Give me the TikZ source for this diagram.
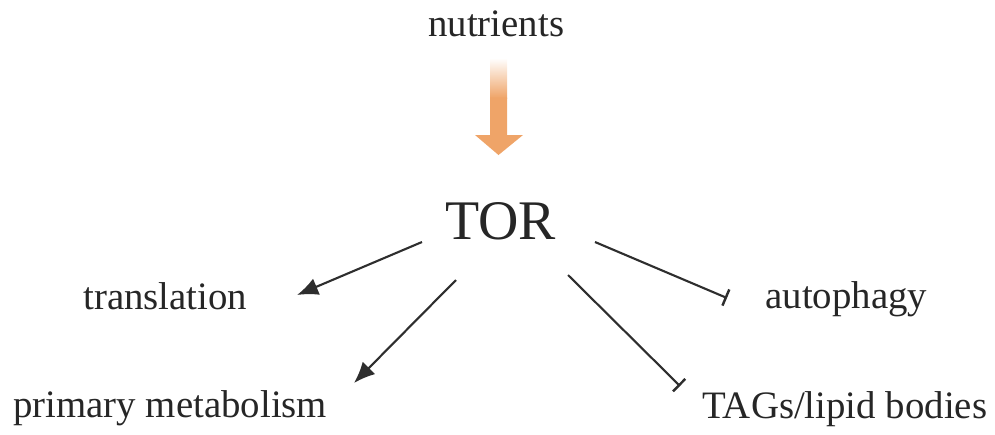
\documentclass[tikz,border=0pt]{standalone}
\usepackage{fontspec}
\setmainfont{Liberation Serif}
\usetikzlibrary{arrows.meta}
\definecolor{txt}{HTML}{262626}
\definecolor{ln}{HTML}{2E2E2E}
\definecolor{org}{HTML}{EFA468}
\tikzset{
  lbl/.style={anchor=base west, inner sep=0pt, text=txt, font=\fontsize{22.1pt}{26pt}\selectfont},
  big/.style={anchor=base west, inner sep=0pt, text=txt, font=\fontsize{31.8pt}{36pt}\selectfont},
  act/.style={draw=ln, line width=1.2pt, -{Latex[length=12pt,width=10pt]}},
  inh/.style={draw=ln, line width=1.2pt, -{Bar[width=10pt,line width=1.4pt]}}
}
\begin{document}
\begin{tikzpicture}[x=0.02cm,y=-0.02cm]
\useasboundingbox (0,0) rectangle (995,434);
\node[lbl] (nut) at (428,36) {nutrients};
\node[big] (tor) at (445,239) {TOR};
\node[lbl] (tra) at (83,309) {translation};
\node[lbl] (aut) at (765,308) {autophagy};
\node[lbl] (pri) at (13,417) {primary metabolism};
\node[lbl] (tag) at (702,418) {TAGs/lipid bodies};
% orange gradient arrow
\shade[top color=white, bottom color=org, draw=none] (490,58) rectangle (507,98);
\fill[org] (490,97.5) -- (507,97.5) -- (507,135) -- (523,135) -- (498.5,155) -- (475,135) -- (490,135) -- cycle;
% connectors
\coordinate (s1) at (422,242); \coordinate (e1) at (297,295);
\coordinate (s2) at (456,280); \coordinate (e2) at (354,383);
\coordinate (s3) at (595,242); \coordinate (e3) at (727,298);
\coordinate (s4) at (568,275); \coordinate (e4) at (680,386);
\draw[act] (s1) -- (e1);
\draw[act] (s2) -- (e2);
\draw[inh] (s3) -- (e3);
\draw[inh] (s4) -- (e4);
\end{tikzpicture}
\end{document}
